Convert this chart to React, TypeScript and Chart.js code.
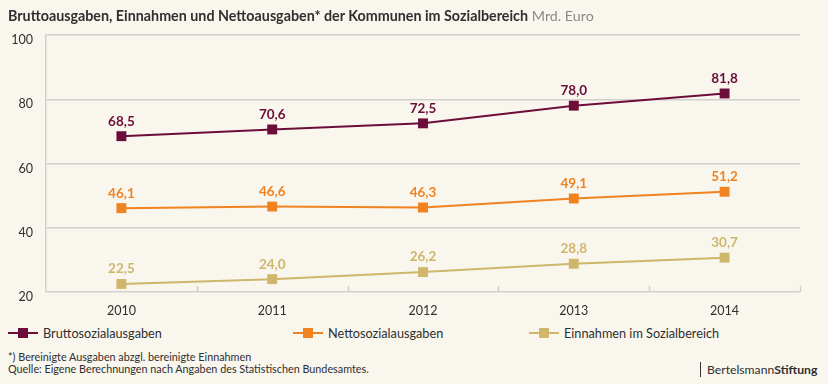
import React, { useEffect, useRef } from "react";
import { Chart, registerables } from "chart.js";

Chart.register(...registerables);

const years = ["2010", "2011", "2012", "2013", "2014"];
const brutto = [68.5, 70.6, 72.5, 78.0, 81.8];
const netto = [46.1, 46.6, 46.3, 49.1, 51.2];
const einnahmen = [22.5, 24.0, 26.2, 28.8, 30.7];
const yMin = 20;
const yMax = 100;
const yStep = 20;
const seriesNames = ["Bruttosozialausgaben", "Nettosozialausgaben", "Einnahmen im Sozialbereich"];
const seriesColors = ["#6c0d39", "#f08220", "#ceb66b"];

const BG = "#f9f6ee";
const TEXT = "#2f2f2f";
const GRID = "#d2d0cb";
const FONT = "Lato, 'Noto Sans', sans-serif";

const fmt = (v: number) => v.toFixed(1).replace(".", ",");

const valueLabels = {
  id: "valueLabels",
  afterDatasetsDraw(chart: any) {
    const ctx = chart.ctx;
    chart.data.datasets.forEach((ds: any, di: number) => {
      const meta = chart.getDatasetMeta(di);
      meta.data.forEach((pt: any, i: number) => {
        ctx.save();
        ctx.fillStyle = ds.borderColor;
        ctx.font = `bold 13.5px ${FONT}`;
        ctx.textAlign = "center";
        ctx.textBaseline = "middle";
        ctx.fillText(fmt(ds.data[i]), pt.x, pt.y - 15);
        ctx.restore();
      });
    });
  },
};

const innerTicks = {
  id: "innerTicks",
  afterDraw(chart: any) {
    const ctx = chart.ctx;
    const xs = chart.scales.x;
    const bottom = chart.chartArea.bottom;
    ctx.save();
    ctx.strokeStyle = GRID;
    ctx.lineWidth = 1.5;
    for (let i = 1; i <= years.length; i++) {
      const px = Math.round(xs.getPixelForValue(i - 0.5)) + 0.5;
      ctx.beginPath();
      ctx.moveTo(px, bottom - 6);
      ctx.lineTo(px, bottom);
      ctx.stroke();
    }
    ctx.restore();
  },
};

function ChartCanvas() {
  const ref = useRef<HTMLCanvasElement | null>(null);
  useEffect(() => {
    if (!ref.current) return;
    const series = [brutto, netto, einnahmen];
    const chart = new Chart(ref.current, {
      type: "line",
      data: {
        labels: years,
        datasets: series.map((d, i) => ({
          label: seriesNames[i],
          data: d,
          borderColor: seriesColors[i],
          backgroundColor: seriesColors[i],
          borderWidth: 2,
          pointStyle: "rect",
          pointRadius: 7,
          pointBorderWidth: 0,
          pointBackgroundColor: seriesColors[i],
          tension: 0,
          clip: false as any,
        })),
      },
      options: {
        animation: false,
        responsive: false,
        devicePixelRatio: 1,
        layout: { padding: { top: 35, right: 28, left: 0, bottom: 0 } },
        plugins: {
          legend: { display: false },
          tooltip: { enabled: false },
          title: { display: false },
        },
        scales: {
          x: {
            type: "category",
            offset: true,
            grid: { display: false, offset: true, drawTicks: false },
            border: { display: false },
            ticks: {
              color: TEXT,
              font: { family: FONT, size: 12.5 },
              padding: 11,
              maxRotation: 0,
            },
            afterFit: (s: any) => {
              s.height = 28;
            },
          },
          y: {
            min: yMin,
            max: yMax,
            grid: { color: GRID, lineWidth: 1.5, drawTicks: false },
            border: { display: true, color: GRID, width: 1.5 },
            ticks: {
              stepSize: yStep,
              color: TEXT,
              font: { family: FONT, size: 12.5 },
              padding: 13,
              labelOffset: 5,
            },
            afterFit: (s: any) => {
              s.width = 46;
            },
          },
        },
      },
      plugins: [valueLabels, innerTicks],
    });
    return () => chart.destroy();
  }, []);
  return (
    <canvas
      ref={ref}
      width={828}
      height={320}
      style={{ position: "absolute", left: 0, top: 0, width: 828, height: 320 }}
    />
  );
}

function LegendItem({ x, color, name }: { x: number; color: string; name: string }) {
  return (
    <div style={{ position: "absolute", left: x, top: 325, height: 16, display: "flex", alignItems: "center" }}>
      <div style={{ position: "relative", width: 30, height: 16 }}>
        <div style={{ position: "absolute", left: 0, top: 7, width: 30, height: 2, background: color }} />
        <div style={{ position: "absolute", left: 10, top: 3, width: 10, height: 10, background: color }} />
      </div>
      <span style={{ marginLeft: 5, fontSize: 12.7, color: TEXT, whiteSpace: "nowrap", lineHeight: "16px" }}>{name}</span>
    </div>
  );
}

export default function App() {
  const legendX = [8, 293, 529];
  return (
    <div
      style={{
        position: "relative",
        width: 828,
        height: 384,
        background: BG,
        fontFamily: FONT,
        overflow: "hidden",
      }}
    >
      <style>{`body{margin:0;background:${BG};}`}</style>
      <ChartCanvas />
      <div
        style={{
          position: "absolute",
          left: 8,
          top: 6,
          fontSize: 14.3,
          lineHeight: "20px",
          color: TEXT,
          whiteSpace: "nowrap",
        }}
      >
        <span style={{ fontWeight: 700 }}>
          Bruttoausgaben, Einnahmen und Nettoausgaben* der Kommunen im Sozialbereich
        </span>{" "}
        <span style={{ color: "#8a8a8a" }}>Mrd. Euro</span>
      </div>
      {seriesNames.map((n, i) => (
        <LegendItem key={n} x={legendX[i]} color={seriesColors[i]} name={n} />
      ))}
      <div
        style={{
          position: "absolute",
          left: 8,
          top: 351,
          fontSize: 10.8,
          lineHeight: "12px",
          color: TEXT,
          whiteSpace: "nowrap",
        }}
      >
        <div>*) Bereinigte Ausgaben abzgl. bereinigte Einnahmen</div>
        <div>Quelle: Eigene Berechnungen nach Angaben des Statistischen Bundesamtes.</div>
      </div>
      <div
        style={{
          position: "absolute",
          left: 700,
          top: 362,
          height: 15,
          borderLeft: "1.5px solid #333",
          paddingLeft: 6,
          fontSize: 12.2,
          lineHeight: "15px",
          color: TEXT,
          whiteSpace: "nowrap",
        }}
      >
        Bertelsmann<span style={{ fontWeight: 700 }}>Stiftung</span>
      </div>
    </div>
  );
}
